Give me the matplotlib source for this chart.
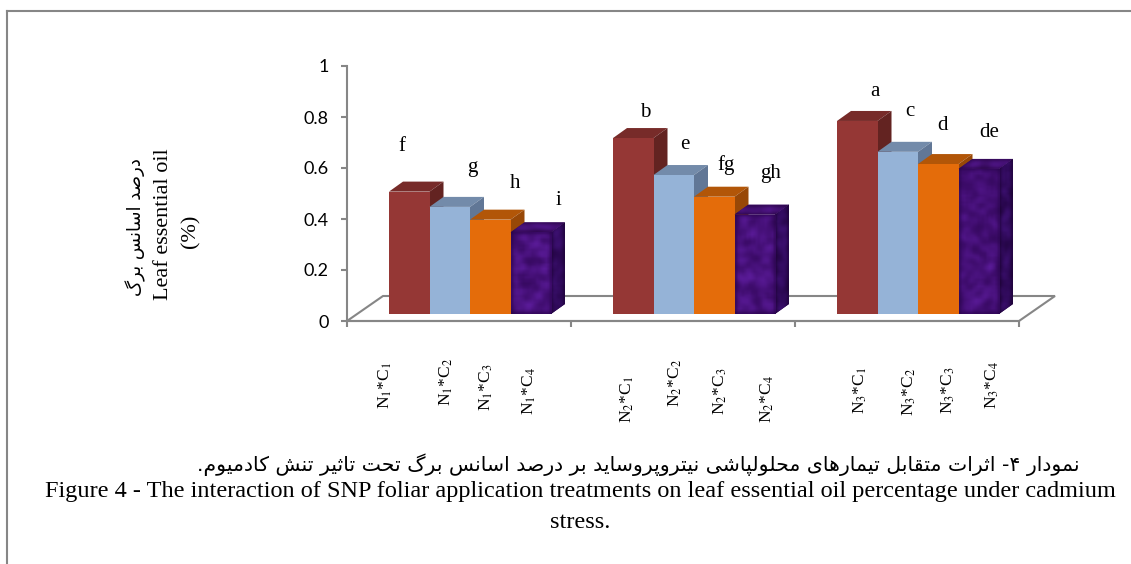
import numpy as np
import matplotlib
matplotlib.use("Agg")
import matplotlib.pyplot as plt
from matplotlib.patches import Polygon
from matplotlib.lines import Line2D
from matplotlib.colors import LinearSegmentedColormap

# ---------------- data ----------------
n_levels = ["N1", "N2", "N3"]
c_levels = ["C1", "C2", "C3", "C4"]
n1_values = [0.48, 0.42, 0.37, 0.32]
n2_values = [0.69, 0.545, 0.46, 0.39]
n3_values = [0.757, 0.636, 0.588, 0.569]
n1_letters = ["f", "g", "h", "i"]
n2_letters = ["b", "e", "fg", "gh"]
n3_letters = ["a", "c", "d", "de"]
y_ticks = [0, 0.2, 0.4, 0.6, 0.8, 1]
y_tick_labels = ["0", "0.2", "0.4", "0.6", "0.8", "1"]
ylabel_fa = "درصد اسانس برگ"
ylabel_en = "Leaf essential oil"
ylabel_unit = "(%)"
caption_fa = "نمودار ۴- اثرات متقابل تیمارهای محلولپاشی نیتروپروساید بر درصد اسانس برگ تحت تاثیر تنش کادمیوم."
caption_en1 = "Figure 4 - The interaction of SNP foliar application treatments on leaf essential oil percentage under cadmium"
caption_en2 = "stress."

values = [n1_values, n2_values, n3_values]
letters = [n1_letters, n2_letters, n3_letters]

# ---------------- Persian shaping (presentation forms, visual order) ----------------
FORMS = {
    "ا": ("\uFE8D", "\uFE8E", None, None),
    "ب": ("\uFE8F", "\uFE90", "\uFE91", "\uFE92"),
    "پ": ("\uFB56", "\uFB57", "\uFB58", "\uFB59"),
    "ت": ("\uFE95", "\uFE96", "\uFE97", "\uFE98"),
    "ث": ("\uFE99", "\uFE9A", "\uFE9B", "\uFE9C"),
    "ح": ("\uFEA1", "\uFEA2", "\uFEA3", "\uFEA4"),
    "د": ("\uFEA9", "\uFEAA", None, None),
    "ر": ("\uFEAD", "\uFEAE", None, None),
    "س": ("\uFEB1", "\uFEB2", "\uFEB3", "\uFEB4"),
    "ش": ("\uFEB5", "\uFEB6", "\uFEB7", "\uFEB8"),
    "ص": ("\uFEB9", "\uFEBA", "\uFEBB", "\uFEBC"),
    "ق": ("\uFED5", "\uFED6", "\uFED7", "\uFED8"),
    "ک": ("\uFB8E", "\uFB8F", "\uFB90", "\uFB91"),
    "گ": ("\uFB92", "\uFB93", "\uFB94", "\uFB95"),
    "ل": ("\uFEDD", "\uFEDE", "\uFEDF", "\uFEE0"),
    "م": ("\uFEE1", "\uFEE2", "\uFEE3", "\uFEE4"),
    "ن": ("\uFEE5", "\uFEE6", "\uFEE7", "\uFEE8"),
    "و": ("\uFEED", "\uFEEE", None, None),
    "ه": ("\uFEE9", "\uFEEA", "\uFEEB", "\uFEEC"),
    "ی": ("\uFBFC", "\uFBFD", "\uFBFE", "\uFBFF"),
}


def shape_fa(s):
    out = []
    for i, c in enumerate(s):
        if c not in FORMS:
            out.append(c)
            continue
        prev = s[i - 1] if i > 0 else None
        nxt = s[i + 1] if i + 1 < len(s) else None
        jp = prev in FORMS and FORMS[prev][2] is not None
        jn = nxt in FORMS and FORMS[c][2] is not None
        iso, fin, ini, med = FORMS[c]
        if jp and jn:
            out.append(med)
        elif jp:
            out.append(fin)
        elif jn:
            out.append(ini)
        else:
            out.append(iso)
    return "".join(out)[::-1]


plt.rcParams["mathtext.fontset"] = "stix"

W, H = 1131, 564
fig = plt.figure(figsize=(W / 100, H / 100), dpi=100)

# axes: value 0 at y=321 px, 1 at y=66 px; x from 347 to 1019 px
AX_L, AX_R, AX_B, AX_T = 347, 1019, 321, 66
ax = fig.add_axes([AX_L / W, 1 - AX_B / H, (AX_R - AX_L) / W, (AX_B - AX_T) / H])
ax.set_autoscale_on(False)
ax.set_xlim(0, 3)
ax.set_ylim(0, 1)
ax.patch.set_alpha(0)
PXX = 3 / (AX_R - AX_L)   # data units per px (x)
PXY = 1 / (AX_B - AX_T)   # data units per px (y)

GRAY = "#868686"
for s in ["top", "right"]:
    ax.spines[s].set_visible(False)
for s in ["left", "bottom"]:
    ax.spines[s].set_color(GRAY)
    ax.spines[s].set_linewidth(1.5)
ax.set_yticks(y_ticks)
ax.set_yticklabels(y_tick_labels, fontsize=13, family="Lato")
ax.set_xticks([0, 1, 2, 3])
ax.set_xticklabels([])
ax.tick_params(axis="both", direction="out", length=4, width=1.5, color=GRAY)
ax.tick_params(axis="y", pad=9)

# floor
fdx, fdy = 36 * PXX, 25 * PXY
floor = Polygon([(0, 0), (3, 0), (3 + fdx, fdy), (fdx, fdy)], closed=True,
                facecolor="white", edgecolor=GRAY, lw=1.5, zorder=1, clip_on=False)
ax.add_patch(floor)

# bar geometry
bw = 40.5 * PXX
g0 = 42 * PXX
b0 = 7 * PXY
ddx, ddy = 14 * PXX, 10 * PXY

front_cols = ["#953735", "#95B3D7", "#E46C0A", "#41106E"]
top_cols = ["#772B29", "#738BAA", "#B25608", "#3A0C62"]
side_cols = ["#632321", "#617796", "#984807", "#2A0648"]

# deterministic mottled texture for the purple series
def mottle(n, m, k):
    yy, xx = np.mgrid[0:n, 0:m].astype(float)
    v = np.sin(xx * 12.9898 + yy * 78.233 + k * 3.17) * 43758.5453
    v = v - np.floor(v)
    ker = np.ones(3) / 3
    for _ in range(2):
        v = np.apply_along_axis(lambda r: np.convolve(r, ker, mode="same"), 0, v)
        v = np.apply_along_axis(lambda r: np.convolve(r, ker, mode="same"), 1, v)
    v = (v - v.min()) / (v.max() - v.min() + 1e-9)
    return v

cm_front = LinearSegmentedColormap.from_list("pf", ["#2C0650", "#3E0C6C", "#5A1B98"])
cm_side = LinearSegmentedColormap.from_list("ps", ["#1C0334", "#2A0750", "#3C1070"])
cm_top = LinearSegmentedColormap.from_list("pt", ["#2A0648", "#3A0C62", "#4E1585"])

for i in range(4):
    xs = [g + g0 + i * bw + bw / 2 for g in range(3)]
    vs = [values[g][i] for g in range(3)]
    zf = 3 + 2 * i
    zs = 2 + 2 * i
    bars = ax.bar(xs, vs, width=bw, bottom=b0, color=front_cols[i],
                  zorder=zf, linewidth=0)
    for g, rect in enumerate(bars):
        xl = rect.get_x()
        v = rect.get_height()
        top = Polygon([(xl, b0 + v), (xl + bw, b0 + v), (xl + bw + ddx, b0 + v + ddy),
                       (xl + ddx, b0 + v + ddy)], closed=True, facecolor=top_cols[i],
                      lw=0, zorder=zs)
        side = Polygon([(xl + bw, b0), (xl + bw + ddx, b0 + ddy), (xl + bw + ddx, b0 + v + ddy),
                        (xl + bw, b0 + v)], closed=True, facecolor=side_cols[i],
                       lw=0, zorder=zs)
        ax.add_patch(top)
        ax.add_patch(side)
        if i == 3:
            k = g * 3
            im = ax.imshow(mottle(int(v * 110) + 4, 18, k), cmap=cm_front, aspect="auto",
                           extent=(xl, xl + bw, b0, b0 + v), zorder=zf + 0.1,
                           interpolation="bilinear")
            im.set_clip_path(rect)
            im2 = ax.imshow(mottle(int(v * 110) + 6, 7, k + 1), cmap=cm_side, aspect="auto",
                            extent=(xl + bw, xl + bw + ddx, b0, b0 + v + ddy),
                            zorder=zs + 0.1, interpolation="bilinear")
            im2.set_clip_path(side)
            im3 = ax.imshow(mottle(5, 18, k + 2), cmap=cm_top, aspect="auto",
                            extent=(xl, xl + bw + ddx, b0 + v, b0 + v + ddy),
                            zorder=zs + 0.1, interpolation="bilinear")
            im3.set_clip_path(top)
        ax.set_xlim(0, 3)
        ax.set_ylim(0, 1)

# significance letters (layout offsets in px relative to bar front-top centre)
let_dx = [[-7.5, 22.5, 24.5, 27.5], [11.5, 11.5, 11.5, 15.5], [17.5, 12.5, 4.5, 10.5]]
let_dy = [[41, 35, 32, 27], [21, 26, 27, 37], [25, 36, 34, 32]]
for g in range(3):
    for i in range(4):
        xc = g + g0 + i * bw + bw / 2
        ax.text(xc + let_dx[g][i] * PXX, b0 + values[g][i] + let_dy[g][i] * PXY,
                letters[g][i], ha="center", va="baseline", fontsize=15,
                family="Liberation Serif", zorder=20)

# category labels (rotated)
cat_dx = [[-23.5, -3, -4, -1.5], [-6, 1.5, 6, 12.5], [3.5, 12, 10.5, 14]]
cat_y = [[385, 382, 387, 391], [399, 383, 391, 399], [390, 392, 390, 385]]
for g in range(3):
    for i in range(4):
        xc = g + g0 + i * bw + bw / 2
        lab = r"N$_{\mathrm{%s}}$*C$_{\mathrm{%s}}$" % (n_levels[g][1], c_levels[i][1])
        ax.text(xc + cat_dx[g][i] * PXX, (AX_B - cat_y[g][i]) * PXY, lab,
                rotation=90, ha="center", va="center", fontsize=12.5,
                family="Liberation Serif", clip_on=False)

# y-axis titles
fig.text(136 / W, 1 - 227 / H, shape_fa(ylabel_fa), rotation=90, ha="center",
         va="center", fontsize=13, family="DejaVu Sans")
fig.text(164 / W, 1 - 224 / H, ylabel_en, rotation=90, ha="center", va="center",
         fontsize=16, family="Liberation Serif")
fig.text(191 / W, 1 - 231 / H, ylabel_unit, rotation=90, ha="center", va="center",
         fontsize=16, family="Liberation Serif")

# captions
fig.text(638 / W, 1 - 465 / H, shape_fa(caption_fa), ha="center", va="center",
         fontsize=14.7, family="DejaVu Sans")
fig.text(580 / W, 1 - 491 / H, caption_en1, ha="center", va="center",
         fontsize=17.5, family="Liberation Serif")
fig.text(580 / W, 1 - 523 / H, caption_en2, ha="center", va="center",
         fontsize=17.5, family="Liberation Serif")

# frame
fig.add_artist(Line2D([7 / W, 1], [1 - 11 / H, 1 - 11 / H], color=GRAY, lw=1.5,
                      transform=fig.transFigure))
fig.add_artist(Line2D([7 / W, 7 / W], [0, 1 - 11 / H], color=GRAY, lw=1.5,
                      transform=fig.transFigure))

fig.savefig("out.png", dpi=100)
